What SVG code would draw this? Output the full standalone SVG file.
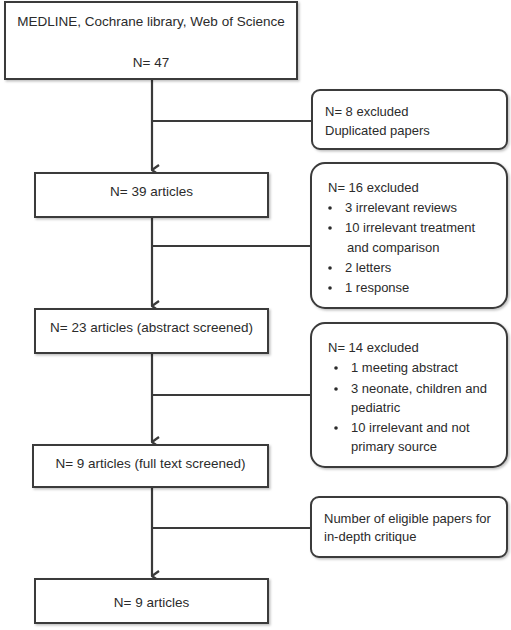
<svg xmlns="http://www.w3.org/2000/svg" width="511" height="630" viewBox="0 0 511 630">
<defs>
<filter id="sh" x="-5%" y="-5%" width="115%" height="120%">
<feDropShadow dx="1.5" dy="1.5" stdDeviation="1" flood-color="#000" flood-opacity="0.25"/>
</filter>
<marker id="arr" viewBox="0 0 12 10" refX="6" refY="9" markerWidth="12" markerHeight="10" markerUnits="userSpaceOnUse" orient="auto-start-reverse">
<path d="M1,2 L6,9 L11,2" fill="none" stroke="#3a3a3a" stroke-width="2.2"/>
</marker>
</defs>
<style>
.box{fill:#fff;stroke:#3a3a3a;stroke-width:2;filter:url(#sh)}
.t{font-family:"Liberation Sans",Arial,sans-serif;font-size:13.5px;fill:#2b2b2b}
.s{font-family:"Liberation Sans",Arial,sans-serif;font-size:13px;fill:#2b2b2b}
.c{text-anchor:middle}
.line{stroke:#3a3a3a;stroke-width:2.2;fill:none}
</style>
<rect width="511" height="630" fill="#fff"/>
<g id="connectors">
<line class="line" x1="152" y1="79" x2="152" y2="170" marker-end="url(#arr)"/>
<line class="line" x1="152" y1="121" x2="312" y2="121"/>
<line class="line" x1="152" y1="217" x2="152" y2="306" marker-end="url(#arr)"/>
<line class="line" x1="152" y1="246" x2="311" y2="246"/>
<line class="line" x1="152" y1="353" x2="152" y2="442" marker-end="url(#arr)"/>
<line class="line" x1="152" y1="395" x2="311" y2="395"/>
<line class="line" x1="152" y1="487" x2="152" y2="576" marker-end="url(#arr)"/>
<line class="line" x1="152" y1="528" x2="311" y2="528"/>
</g>
<g id="n47">
<rect class="box" x="5" y="2" width="292" height="77"/>
<text class="t c" x="151" y="26">MEDLINE, Cochrane library, Web of Science</text>
<text class="t c" x="151" y="67">N= 47</text>
</g>
<g id="ex8">
<rect class="box" x="312" y="90" width="195" height="59" rx="8"/>
<text class="s" x="325" y="116">N= 8 excluded</text>
<text class="s" x="325" y="135">Duplicated papers</text>
</g>
<g id="n39">
<rect class="box" x="35" y="173" width="233" height="44"/>
<text class="t c" x="151.5" y="196">N= 39 articles</text>
</g>
<g id="ex16">
<rect class="box" x="311" y="163" width="196" height="145" rx="14"/>
<text class="s" x="328" y="192">N= 16 excluded</text>
<g class="s">
<circle cx="330" cy="208" r="1.8" fill="#2b2b2b"/>
<circle cx="330" cy="228" r="1.8" fill="#2b2b2b"/>
<circle cx="330" cy="268" r="1.8" fill="#2b2b2b"/>
<circle cx="330" cy="288" r="1.8" fill="#2b2b2b"/>
</g>
<text class="s" x="345" y="212">3 irrelevant reviews</text>
<text class="s" x="345" y="232">10 irrelevant treatment</text>
<text class="s" x="347" y="252">and comparison</text>
<text class="s" x="345" y="272">2 letters</text>
<text class="s" x="345" y="292">1 response</text>
</g>
<g id="n23">
<rect class="box" x="35" y="309" width="233" height="44"/>
<text class="t c" x="151.5" y="332">N= 23 articles (abstract screened)</text>
</g>
<g id="ex14">
<rect class="box" x="311" y="323" width="196" height="144" rx="14"/>
<text class="s" x="328" y="352">N= 14 excluded</text>
<circle cx="336" cy="368" r="1.8" fill="#2b2b2b"/>
<circle cx="336" cy="389" r="1.8" fill="#2b2b2b"/>
<circle cx="336" cy="428" r="1.8" fill="#2b2b2b"/>
<text class="s" x="351" y="372">1 meeting abstract</text>
<text class="s" x="351" y="393">3 neonate, children and</text>
<text class="s" x="351" y="412">pediatric</text>
<text class="s" x="351" y="432">10 irrelevant and not</text>
<text class="s" x="351" y="451">primary source</text>
</g>
<g id="n9full">
<rect class="box" x="33" y="445" width="235" height="42"/>
<text class="t c" x="150.5" y="468">N= 9 articles (full text screened)</text>
</g>
<g id="eligible">
<rect class="box" x="311" y="497" width="196" height="60" rx="8"/>
<text class="s" x="324" y="523">Number of eligible papers for</text>
<text class="s" x="324" y="541">in-depth critique</text>
</g>
<g id="n9">
<rect class="box" x="35" y="579" width="233" height="44"/>
<text class="t c" x="151.5" y="607">N= 9 articles</text>
</g>
</svg>
